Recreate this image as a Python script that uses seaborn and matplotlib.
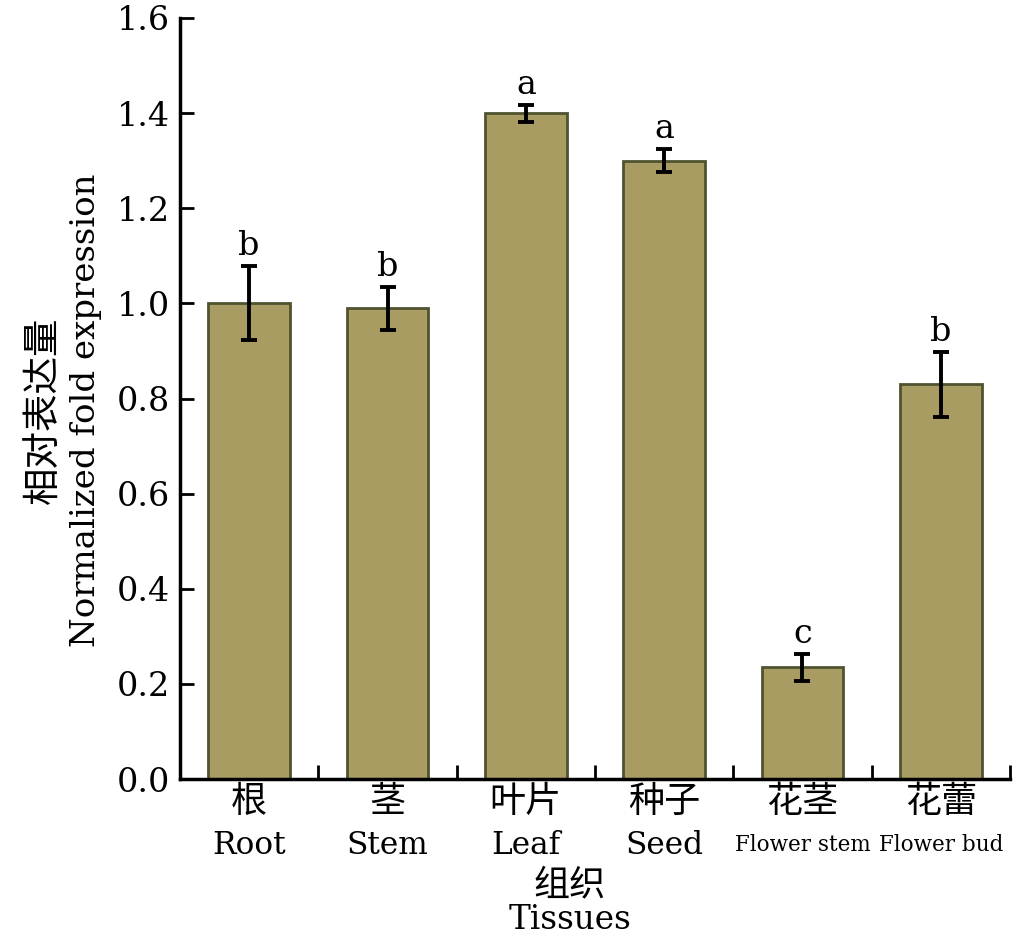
import matplotlib
matplotlib.use("Agg")
import matplotlib.pyplot as plt
import seaborn as sns
import numpy as np
import pandas as pd

categories_cn = ["根", "茎", "叶片", "种子", "花茎", "花蕾"]
categories_en = ["Root", "Stem", "Leaf", "Seed", "Flower stem", "Flower bud"]
values = [1.00, 0.99, 1.40, 1.30, 0.235, 0.83]
errors = [0.078, 0.045, 0.018, 0.024, 0.028, 0.068]
letters = ["b", "b", "a", "a", "c", "b"]
yticks = [0.0, 0.2, 0.4, 0.6, 0.8, 1.0, 1.2, 1.4, 1.6]

sns.set_style("ticks")
FAM = ["DejaVu Serif", "Noto Sans CJK SC"]
plt.rcParams["font.family"] = FAM
for k in ["text.color", "axes.labelcolor", "xtick.color", "ytick.color",
          "axes.edgecolor"]:
    plt.rcParams[k] = "black"

df = pd.DataFrame({"tissue": categories_cn, "value": values})

W, H = 1023, 943
fig = plt.figure(figsize=(W / 100, H / 100), dpi=100)
ax = fig.add_axes([180 / W, 1 - 779 / H, 830 / W, 761 / H])

sns.barplot(data=df, x="tissue", y="value", order=categories_cn, color="#A89C62",
            saturation=1, width=0.59, edgecolor="#4F5330", linewidth=2,
            errorbar=None, ax=ax)
xpos = np.arange(len(values))
ax.errorbar(xpos, values, yerr=errors, fmt="none", ecolor="black",
            elinewidth=2.8, capsize=6, capthick=2.8, zorder=5)
for x, v, e, l in zip(xpos, values, errors, letters):
    ax.text(x, v + e + 0.008, l, ha="center", va="bottom", fontsize=24)

ax.set_ylim(0, 1.6)
ax.set_xlim(-0.5, 5.5)
ax.set_yticks(yticks)
ax.set_yticklabels([f"{t:.1f}" for t in yticks], fontsize=24)
ax.set_xticks(xpos)
ax.set_xticklabels(categories_cn, fontsize=26)
ax.tick_params(axis="x", length=0, pad=4)
ax.set_xticks(np.arange(0.5, 6, 1), minor=True)
ax.tick_params(axis="x", which="minor", direction="in", length=10, width=2)
ax.tick_params(axis="y", direction="in", length=10, width=2, pad=7)

for x, e in zip(xpos, categories_en):
    fs = 22.5 if len(e) <= 6 else 15.5
    ax.annotate(e, xy=(x, 0), xycoords="data", xytext=(0, -66),
                textcoords="offset pixels", ha="center", va="center",
                fontsize=fs)

ax.set_xlabel("")
ax.set_ylabel("")
fig.text(570 / W, 1 - 885 / H, "组织", ha="center", va="center", fontsize=26)
fig.text(570 / W, 1 - 920 / H, "Tissues", ha="center", va="center", fontsize=23.5)
fig.text(45 / W, 1 - 410 / H, "相对表达量", ha="center", va="center",
         fontsize=27, rotation=90)
fig.text(86 / W, 1 - 410 / H, "Normalized fold expression", ha="center",
         va="center", fontsize=24.5, rotation=90)

for s in ["top", "right"]:
    ax.spines[s].set_visible(False)
for s in ["left", "bottom"]:
    ax.spines[s].set_linewidth(2.5)
    ax.spines[s].set_color("black")

fig.savefig("out.png", dpi=100)
